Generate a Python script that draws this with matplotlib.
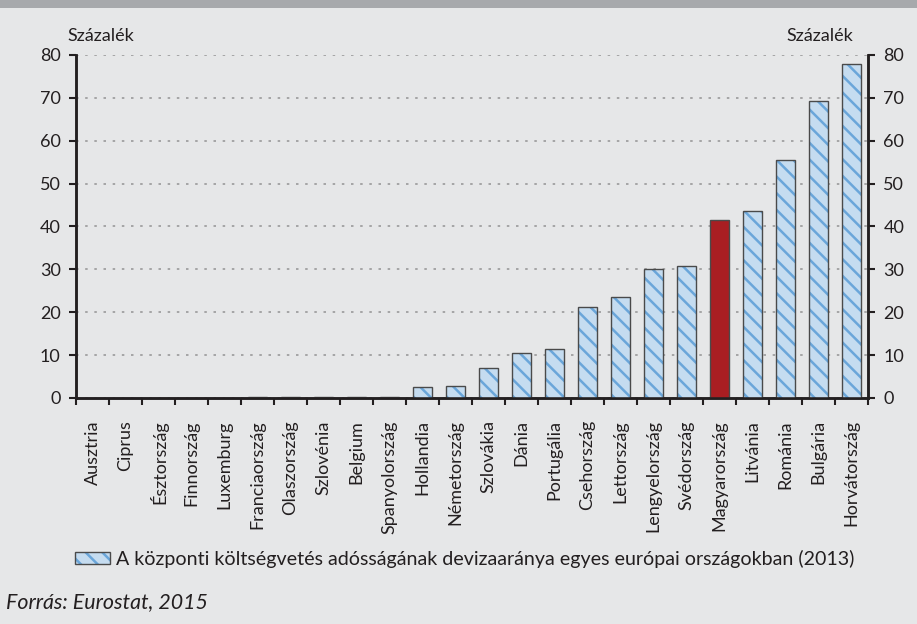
import matplotlib
matplotlib.use("Agg")
import matplotlib.pyplot as plt
import matplotlib.patches as mpatches
import numpy as np

plt.rcParams['font.family'] = ['Lato', 'DejaVu Sans']
plt.rcParams['hatch.linewidth'] = 1.8

countries = ['Ausztria', 'Ciprus', 'Észtország', 'Finnország', 'Luxemburg',
             'Franciaország', 'Olaszország', 'Szlovénia', 'Belgium',
             'Spanyolország', 'Hollandia', 'Németország', 'Szlovákia', 'Dánia',
             'Portugália', 'Csehország', 'Lettország', 'Lengyelország',
             'Svédország', 'Magyarország', 'Litvánia', 'Románia', 'Bulgária',
             'Horvátország']
values = [0.0, 0.0, 0.0, 0.0, 0.0, 0.3, 0.3, 0.3, 0.3, 0.3, 2.6, 2.8, 7.0,
          10.6, 11.5, 21.3, 23.5, 30.2, 30.8, 41.6, 43.6, 55.5, 69.2, 77.8]
highlight = 'Magyarország'
yticks = [0, 10, 20, 30, 40, 50, 60, 70, 80]
legend_text = ('A központi költségvetés adósságának devizaaránya '
               'egyes európai országokban (2013)')
source_text = 'Forrás: Eurostat, 2015'

BG = '#e6e7e8'
FILL = '#c5dcf0'
HATCH = '#6aa6da'
RED = '#a91e22'
EDGE = '#4a4a4a'
TXT = '#231f20'

fig = plt.figure(figsize=(9.17, 6.24), dpi=100, facecolor=BG)
ax = fig.add_axes([76 / 917, 1 - 398 / 624, 792 / 917, 343 / 624])
ax.set_facecolor(BG)

# grey band at the very top
fig.patches.append(mpatches.Rectangle((0, 1 - 8 / 624), 1, 8 / 624,
                                      transform=fig.transFigure,
                                      facecolor='#a7a9ac', edgecolor='none'))

x = np.arange(len(countries))
w = 0.58
for xi, name, v in zip(x, countries, values):
    if name == highlight:
        ax.bar(xi, v, width=w, color=RED, edgecolor=EDGE,
               linewidth=1.0, zorder=3)
    else:
        # hatch takes the edge colour, so draw fill+hatch first, outline after
        ax.bar(xi, v, width=w, facecolor=FILL, edgecolor=HATCH,
               linewidth=0, hatch='\\\\', zorder=3)
        ax.bar(xi, v, width=w, facecolor='none', edgecolor=EDGE,
               linewidth=1.0, zorder=4)

ax.set_xlim(-0.5, len(countries) - 0.5)
ax.set_ylim(0, 80)
ax.set_yticks(yticks)
ax.yaxis.grid(True, linestyle=(0, (1.5, 4)), color='#9a9a9a', linewidth=1.2)
ax.set_axisbelow(True)

ax.set_xticks(x)
ax.set_xticklabels(countries, rotation=90, fontsize=13, color=TXT)
ax.set_xticks(np.arange(-0.5, len(countries)), minor=True)
ax.tick_params(axis='x', which='major', length=0, pad=16)
ax.tick_params(axis='x', which='minor', length=5, width=1.5, color=TXT,
               direction='out')
ax.tick_params(axis='y', length=5, width=1.5, color=TXT, direction='out',
               labelsize=13, labelcolor=TXT, pad=6)

ax2 = ax.twinx()
ax2.set_ylim(0, 80)
ax2.set_yticks(yticks)
ax2.tick_params(axis='y', length=5, width=1.5, color=TXT, direction='out',
                labelsize=13, labelcolor=TXT, pad=6)

for a in (ax, ax2):
    a.spines['top'].set_visible(False)
    for s in ('left', 'right', 'bottom'):
        a.spines[s].set_linewidth(1.8)
        a.spines[s].set_color(TXT)

fig.text(67 / 917, 1 - 36 / 624, 'Százalék', fontsize=13, color=TXT,
         ha='left', va='center')
fig.text(853 / 917, 1 - 36 / 624, 'Százalék', fontsize=13, color=TXT,
         ha='right', va='center')

handle = mpatches.Patch(facecolor=FILL, edgecolor=HATCH, hatch='\\\\',
                        linewidth=0)
handle_edge = mpatches.Patch(facecolor='none', edgecolor=EDGE, linewidth=1.0)
fig.legend([(handle, handle_edge)], [legend_text], loc='center',
           bbox_to_anchor=(465 / 917, 1 - 559 / 624), frameon=False,
           fontsize=14.1, handlelength=1.8, handleheight=0.55,
           handletextpad=0.3, labelcolor=TXT)

fig.text(6 / 917, 1 - 602 / 624, source_text, fontsize=15.4, style='italic',
         color=TXT, ha='left', va='center')

fig.savefig('out.png', dpi=100, facecolor=BG)
